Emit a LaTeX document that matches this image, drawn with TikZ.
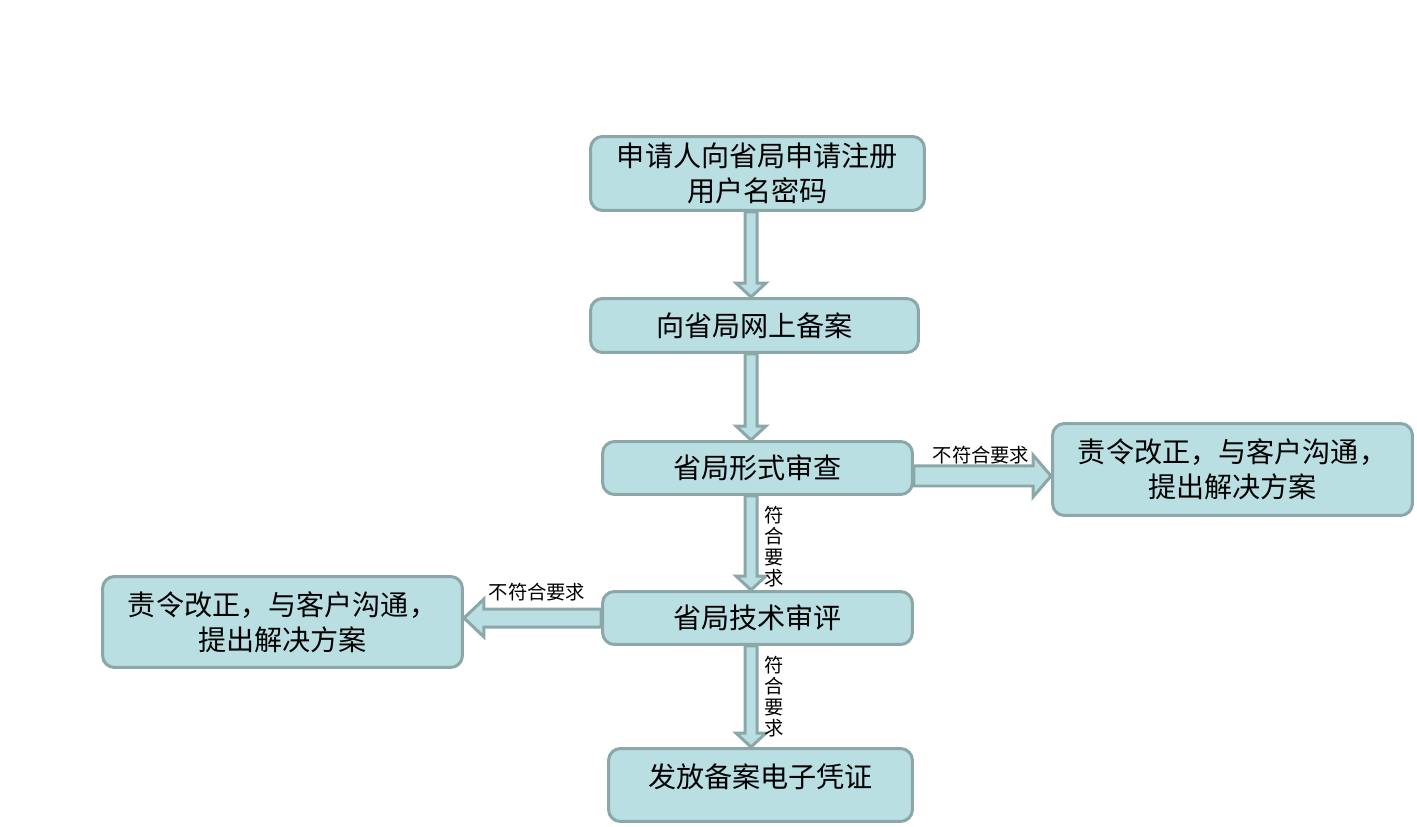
\documentclass[tikz,border=0pt]{standalone}
\usepackage{fontspec}
\newfontfamily\cjk{Noto Sans CJK SC}
\usetikzlibrary{calc}
\definecolor{boxfill}{HTML}{B9DFE3}
\definecolor{boxline}{HTML}{8BA7A8}
\begin{document}
\begin{tikzpicture}[x=0.02cm,y=-0.02cm,
box/.style={draw=boxline,fill=boxfill,line width=0.06cm,rounded corners=0.24cm,align=center,font=\cjk\fontsize{16}{20}\selectfont},
blockarrow/.style={draw=boxline,fill=boxfill,line width=0.06cm},
tag/.style={font=\cjk\fontsize{11}{12}\selectfont,align=center,inner sep=0pt}]
\useasboundingbox (0,0) rectangle (1417,827);
\node[box,minimum width=6.68cm,minimum height=1.48cm](reg)at(757.5,173.5){申请人向省局申请注册\\用户名密码};
\node[box,minimum width=6.56cm,minimum height=1.08cm](web)at(754.5,325.5){向省局网上备案};
\node[box,minimum width=6.2cm,minimum height=1.06cm](chk)at(757.5,468){省局形式审查};
\node[box,minimum width=7.2cm,minimum height=1.84cm](fixa)at(1232.5,469.5){责令改正，与客户沟通，\\提出解决方案};
\node[box,minimum width=6.2cm,minimum height=1.06cm](tech)at(757.5,618){省局技术审评};
\node[box,minimum width=7.2cm,minimum height=1.82cm](fixb)at(282.5,622){责令改正，与客户沟通，\\提出解决方案};
\node[box,minimum width=6.08cm,minimum height=1.46cm,text depth=11pt](cert)at(760.5,785){发放备案电子凭证};
\coordinate(ax)at(751,0);
\coordinate(ry)at(0,476);
% vertical arrows
\draw[blockarrow]($(reg.south-|ax)+(-6,0)$)--($(web.north-|ax)+(-6,-14)$)--++(-9,0)--(web.north-|ax)--++(15,-14)--++(-9,0)--($(reg.south-|ax)+(6,0)$)--cycle;
\draw[blockarrow]($(web.south-|ax)+(-6,0)$)--($(chk.north-|ax)+(-6,-14)$)--++(-9,0)--(chk.north-|ax)--++(15,-14)--++(-9,0)--($(web.south-|ax)+(6,0)$)--cycle;
\draw[blockarrow]($(chk.south-|ax)+(-6,0)$)--($(tech.north-|ax)+(-6,-14)$)--++(-9,0)--(tech.north-|ax)--++(15,-14)--++(-9,0)--($(chk.south-|ax)+(6,0)$)--cycle;
\draw[blockarrow]($(tech.south-|ax)+(-6,0)$)--($(cert.north-|ax)+(-6,-14)$)--++(-9,0)--(cert.north-|ax)--++(15,-14)--++(-9,0)--($(tech.south-|ax)+(6,0)$)--cycle;
% side arrows
\draw[blockarrow]($(chk.east|-ry)+(0,-10)$)--($(fixa.west|-ry)+(-18,-10)$)--++(0,-11)--(fixa.west|-ry)--++(-18,21)--++(0,-11)--($(chk.east|-ry)+(0,10)$)--cycle;
\draw[blockarrow]($(tech.west)+(0,-9)$)--($(fixb.east|-tech.west)+(20,-9)$)--++(0,-10)--(fixb.east|-tech.west)--++(20,19)--++(0,-10)--($(tech.west)+(0,9)$)--cycle;
\node[tag](na)at(981,455){不符合要求};
\node[tag](nb)at(537,592){不符合要求};
\node[tag](ya)at(774,547){符\\合\\要\\求};
\node[tag](yb)at(774,697){符\\合\\要\\求};
\end{tikzpicture}
\end{document}
